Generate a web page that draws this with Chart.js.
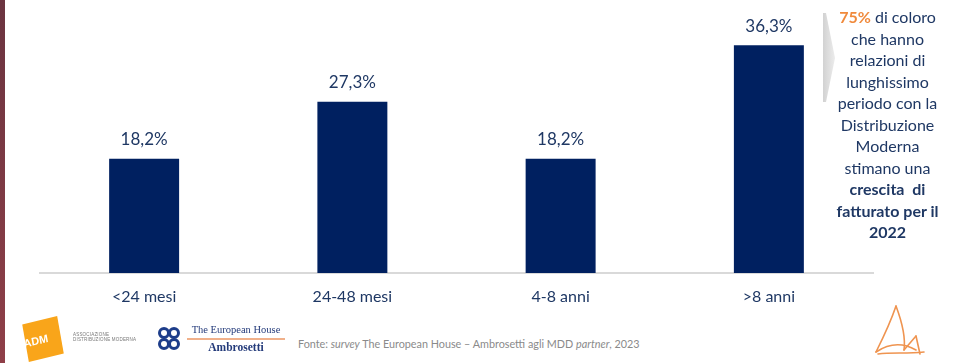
<!DOCTYPE html>
<html lang="it">
<head>
  <meta charset="UTF-8" />
  <title>Durata delle relazioni con la Distribuzione Moderna</title>
  <script src="https://cdn.jsdelivr.net/npm/chart.js"></script>
  <style>
    html, body {
      margin: 0;
      padding: 0;
      background: #fff;
      font-family: Lato, "Open Sans", sans-serif;
    }
    #page {
      position: relative;
      width: 953px;
      height: 363px;
      overflow: hidden;
    }
    #stripe {
      position: absolute;
      left: 0; top: 0;
      width: 5px; height: 363px;
      background: linear-gradient(#6b3440, #8f3f48);
    }
    #chartBox {
      position: absolute;
      left: 0; top: 0;
      width: 953px; height: 320px;
    }
    #note {
      position: absolute;
      left: 822px; top: 6px;
      width: 131px;
      text-align: center;
      color: #1f3864;
      font-size: 16px;
      line-height: 21.5px;
    }
    #note .hl { color: #f08a3c; font-weight: bold; }
    #note b { font-weight: bold; }
    #arrow { position: absolute; left: 820px; top: 10px; }
    #source {
      position: absolute;
      left: 298px; top: 337px;
      font-size: 10.8px;
      color: #8a8a8a;
      white-space: nowrap;
    }
    #adm {
      position: absolute;
      left: 25px; top: 320px;
      width: 36px; height: 38px;
      background: #f9a51a;
      transform: rotate(-14deg) skewX(-4deg);
      color: #fff;
      font: bold 11px "Liberation Sans", sans-serif;
      line-height: 38px;
      text-indent: -2px;
    }
    #admText {
      position: absolute;
      left: 73px; top: 332px;
      font: 4.5px "Liberation Sans", sans-serif;
      color: #777;
      line-height: 5px;
      letter-spacing: 0.2px;
    }
    #teh {
      position: absolute;
      left: 187px; top: 324px;
      width: 98px;
      text-align: center;
      font-family: "Liberation Serif", serif;
      color: #233a7a;
    }
    #teh .t1 { font-size: 10.5px; line-height: 12px; border-bottom: 2px solid #f0b08a; padding-bottom: 2px; }
    #teh .t2 { font-size: 11.5px; font-weight: bold; line-height: 14px; }
    #tehMark { position: absolute; left: 156px; top: 326px; }
    #boat { position: absolute; left: 868px; top: 300px; }
  </style>
</head>
<body>
<div id="page">
  <div id="stripe"></div>
  <div id="chartBox"><canvas id="chart"></canvas></div>

  <svg id="arrow" width="20" height="96">
    <defs>
      <linearGradient id="ag" x1="0" x2="1" y1="0" y2="0">
        <stop offset="0" stop-color="#d2d2d2"/>
        <stop offset="1" stop-color="#ececec"/>
      </linearGradient>
    </defs>
    <polygon points="3,3 6,3 15,48 6,92 3,92" fill="url(#ag)"/>
  </svg>

  <div id="note">
    <span class="hl">75%</span> di coloro<br>
    che hanno<br>
    relazioni di<br>
    lunghissimo<br>
    periodo con la<br>
    Distribuzione<br>
    Moderna<br>
    stimano una<br>
    <b>crescita&nbsp; di</b><br>
    <b>fatturato per il</b><br>
    <b>2022</b>
  </div>

  <div id="adm">ADM</div>
  <div id="admText">ASSOCIAZIONE<br>DISTRIBUZIONE MODERNA</div>

  <svg id="tehMark" width="28" height="26">
    <g fill="none" stroke="#1d3d8a" stroke-width="3">
      <circle cx="8" cy="7" r="4.5"/>
      <circle cx="8" cy="18" r="4.5"/>
      <circle cx="18" cy="7" r="4.5"/>
      <circle cx="18" cy="18" r="4.5"/>
    </g>
  </svg>
  <div id="teh">
    <div class="t1">The European House</div>
    <div class="t2">Ambrosetti</div>
  </div>

  <div id="source">Fonte: <i>survey</i> The European House – Ambrosetti agli MDD <i>partner</i>, 2023</div>

  <svg id="boat" width="62" height="62">
    <g fill="none" stroke="#ef9450" stroke-width="1.6" stroke-linecap="round">
      <path d="M28 6 C 34 22, 38 36, 36 50"/>
      <path d="M28 6 C 22 24, 14 40, 8 52"/>
      <path d="M8 52 C 20 44, 34 42, 48 50"/>
      <path d="M10 54 C 24 52, 38 54, 56 52"/>
      <path d="M48 36 L 52 54"/>
      <path d="M36 50 L 48 36"/>
    </g>
  </svg>
</div>

<script>
  // chart data
  const categories = ['<24 mesi', '24-48 mesi', '4-8 anni', '>8 anni'];
  const shares = [18.2, 27.3, 18.2, 36.3];

  const navy = '#002060';
  const textColor = '#1f3864';

  // draw the percentage above each bar
  const valueLabels = {
    id: 'valueLabels',
    afterDatasetsDraw(chart) {
      const ctx = chart.ctx;
      const meta = chart.getDatasetMeta(0);
      ctx.save();
      ctx.font = '17px Lato, "Open Sans", sans-serif';
      ctx.fillStyle = textColor;
      ctx.textAlign = 'center';
      ctx.textBaseline = 'middle';
      meta.data.forEach((bar, i) => {
        const txt = shares[i].toFixed(1).replace('.', ',') + '%';
        ctx.fillText(txt, bar.x, bar.y - 19);
      });
      ctx.restore();
    }
  };

  new Chart(document.getElementById('chart'), {
    type: 'bar',
    data: {
      labels: categories,
      datasets: [{
        data: shares,
        backgroundColor: navy,
        barPercentage: 0.336,
        categoryPercentage: 1
      }]
    },
    options: {
      responsive: true,
      maintainAspectRatio: false,
      animation: false,
      layout: { padding: { left: 40, right: 80, top: 22, bottom: 17 } },
      plugins: {
        legend: { display: false },
        tooltip: { enabled: false }
      },
      scales: {
        x: {
          grid: { display: false, drawTicks: false },
          border: { display: true, color: '#d9d9d9', width: 2 },
          ticks: {
            color: textColor,
            font: { family: 'Lato, "Open Sans", sans-serif', size: 16 },
            padding: 14
          },
          afterFit(scale) { scale.height = 30; }
        },
        y: {
          display: false,
          min: 0,
          max: 40
        }
      }
    },
    plugins: [valueLabels]
  });
</script>
</body>
</html>
